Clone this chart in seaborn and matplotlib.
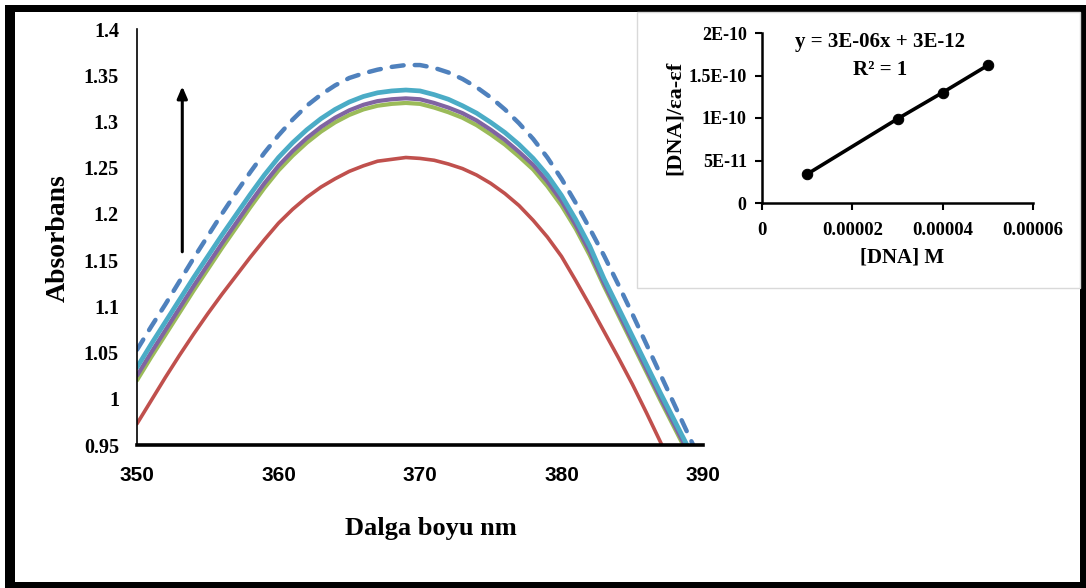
import numpy as np
import pandas as pd
import matplotlib
matplotlib.use("Agg")
import matplotlib.pyplot as plt
from matplotlib.patches import Rectangle
import seaborn as sns

# ---- UV-Vis absorption spectra (absorbance vs wavelength) ----
wavelength = list(range(350, 391))

abs_blue = [1.053, 1.078, 1.102, 1.127, 1.152, 1.176, 1.200, 1.223, 1.245, 1.266,
            1.285, 1.302, 1.317, 1.329, 1.339, 1.347, 1.352, 1.356, 1.359, 1.361,
            1.361, 1.358, 1.353, 1.346, 1.337, 1.326, 1.313, 1.298, 1.281, 1.261,
            1.238, 1.212, 1.184, 1.155, 1.124, 1.092, 1.059, 1.026, 0.993, 0.960,
            0.927]
abs_red = [0.973, 0.998, 1.023, 1.047, 1.070, 1.092, 1.113, 1.133, 1.153, 1.172,
           1.190, 1.205, 1.218, 1.229, 1.238, 1.246, 1.252, 1.257, 1.259, 1.261,
           1.260, 1.258, 1.254, 1.249, 1.242, 1.233, 1.222, 1.209, 1.193, 1.175,
           1.154, 1.128, 1.101, 1.073, 1.045, 1.016, 0.985, 0.953, 0.920, 0.885,
           0.850]
abs_green = [1.020, 1.045, 1.069, 1.093, 1.117, 1.140, 1.163, 1.185, 1.207, 1.228,
             1.247, 1.263, 1.277, 1.289, 1.299, 1.307, 1.313, 1.317, 1.319, 1.320,
             1.319, 1.315, 1.310, 1.304, 1.296, 1.286, 1.275, 1.262, 1.248, 1.230,
             1.209, 1.184, 1.155, 1.122, 1.091, 1.060, 1.029, 0.998, 0.968, 0.938,
             0.908]
abs_purple = [1.025, 1.050, 1.074, 1.098, 1.122, 1.145, 1.168, 1.190, 1.212, 1.233,
              1.252, 1.268, 1.282, 1.294, 1.304, 1.312, 1.318, 1.322, 1.324, 1.325,
              1.324, 1.320, 1.315, 1.309, 1.301, 1.291, 1.280, 1.267, 1.253, 1.235,
              1.214, 1.188, 1.159, 1.125, 1.094, 1.063, 1.032, 1.001, 0.971, 0.941,
              0.911]
abs_cyan = [1.034, 1.059, 1.083, 1.107, 1.131, 1.154, 1.177, 1.199, 1.221, 1.242,
            1.261, 1.277, 1.291, 1.303, 1.313, 1.321, 1.327, 1.331, 1.333, 1.334,
            1.333, 1.329, 1.324, 1.317, 1.309, 1.299, 1.288, 1.275, 1.260, 1.242,
            1.220, 1.194, 1.165, 1.130, 1.099, 1.068, 1.037, 1.006, 0.976, 0.946,
            0.916]

x_ticks = [350, 360, 370, 380, 390]
y_ticks = [0.95, 1.0, 1.05, 1.1, 1.15, 1.2, 1.25, 1.3, 1.35, 1.4]
y_tick_labels = ["0.95", "1", "1.05", "1.1", "1.15", "1.2", "1.25", "1.3", "1.35", "1.4"]

# ---- binding plot: [DNA] vs [DNA]/(εa-εf) ----
dna_conc = [0.00001, 0.00003, 0.00004, 0.00005]
dna_ratio = [3.4e-11, 9.9e-11, 1.30e-10, 1.62e-10]
inset_x_ticks = [0, 0.00002, 0.00004, 0.00006]
inset_x_labels = ["0", "0.00002", "0.00004", "0.00006"]
inset_y_ticks = [0, 5e-11, 1e-10, 1.5e-10, 2e-10]
inset_y_labels = ["0", "5E-11", "1E-10", "1.5E-10", "2E-10"]

sns.set_style("white")
plt.rcParams["font.family"] = ["Liberation Serif", "DejaVu Serif"]
plt.rcParams["text.color"] = "black"
plt.rcParams["xtick.color"] = "black"
plt.rcParams["ytick.color"] = "black"

W, H = 1086, 588
fig = plt.figure(figsize=(W / 100, H / 100), dpi=100)
fig.patch.set_facecolor("white")

# heavy black frame around the whole figure
fig.patches.append(Rectangle((5 / W, 0), 1 - 5 / W, 1 - 5 / H, transform=fig.transFigure,
                             facecolor="black", edgecolor="none", zorder=-3))
fig.patches.append(Rectangle((15 / W, 6 / H), (1080 - 15) / W, (582 - 12) / H,
                             transform=fig.transFigure, facecolor="white",
                             edgecolor="none", zorder=-2))
# light-grey box holding the binding plot
fig.patches.append(Rectangle((637 / W, 1 - 288 / H), (1080 - 637) / W, (288 - 12) / H,
                             transform=fig.transFigure, facecolor="white",
                             edgecolor="#D9D9D9", lw=1.0, zorder=-1))

# ---------------- main spectra axes ----------------
ax = fig.add_axes([137 / W, (H - 445) / H, (703 - 137) / W, (445 - 29) / H])
ax.set_facecolor("none")
ax.set_zorder(1)

spectra = pd.DataFrame({
    "wavelength": wavelength * 5,
    "absorbance": abs_blue + abs_red + abs_green + abs_purple + abs_cyan,
    "series": (["s1"] * len(wavelength) + ["s2"] * len(wavelength) + ["s3"] * len(wavelength)
               + ["s4"] * len(wavelength) + ["s5"] * len(wavelength)),
})
palette = {"s1": "#4F81BD", "s2": "#C0504D", "s3": "#9BBB59", "s4": "#8064A2", "s5": "#4BACC6"}
widths = {"s1": 3.2, "s2": 2.6, "s3": 3.0, "s4": 3.0, "s5": 3.4}

for key in ["s2", "s3", "s4", "s5", "s1"]:
    sub = spectra[spectra["series"] == key]
    sns.lineplot(data=sub, x="wavelength", y="absorbance", color=palette[key],
                 lw=widths[key], ax=ax, legend=False, sort=False)
for ln in ax.get_lines():
    ln.set_solid_capstyle("round")
    ln.set_solid_joinstyle("round")
blue_line = ax.get_lines()[-1]
blue_line.set_dashes((2.7, 2.5))
blue_line.set_dash_capstyle("round")

ax.set_xlim(350, 390)
ax.set_ylim(0.95, 1.4)
ax.set_xticks(x_ticks)
ax.set_xticklabels([str(v) for v in x_ticks], family="Liberation Sans", fontsize=15,
                   fontweight="bold")
ax.set_yticks(y_ticks)
ax.set_yticklabels(y_tick_labels, fontsize=14.5, fontweight="bold")
ax.tick_params(axis="x", length=0, pad=15)
ax.tick_params(axis="y", length=0, pad=13)
for side in ["top", "right"]:
    ax.spines[side].set_visible(False)
ax.spines["left"].set_linewidth(1.2)
ax.spines["left"].set_color("black")
ax.spines["bottom"].set_linewidth(2.6)
ax.spines["bottom"].set_color("black")
ax.set_xlabel("")
ax.set_ylabel("")

# arrow showing the increase in absorbance
ax.annotate("", xy=(353.2, 1.338), xytext=(353.2, 1.159),
            arrowprops=dict(arrowstyle="-|>,head_length=0.7,head_width=0.3",
                            color="black", lw=2.2, shrinkA=0, shrinkB=0))

fig.text(431 / W, 1 - 528 / H, "Dalga boyu nm", ha="center", va="center",
         fontsize=19, fontweight="bold")
fig.text(58 / W, 1 - 238 / H, "Absorbans", ha="center", va="center", rotation=90,
         fontsize=20, fontweight="bold")

# ---------------- inset binding plot ----------------
ins = fig.add_axes([762 / W, (H - 203) / H, (1033 - 762) / W, (203 - 33) / H])
ins.set_facecolor("none")
ins.set_zorder(2)
binding = pd.DataFrame({"conc": dna_conc, "ratio": dna_ratio})
sns.lineplot(data=binding, x="conc", y="ratio", ax=ins, color="black", lw=2.6,
             marker="o", markersize=7.5, markeredgecolor="black", legend=False)
ins.set_xlim(0, 0.00006)
ins.set_ylim(0, 2e-10)
ins.set_xticks(inset_x_ticks)
ins.set_xticklabels(inset_x_labels, fontsize=13.5, fontweight="bold")
ins.set_yticks(inset_y_ticks)
ins.set_yticklabels(inset_y_labels, fontsize=13, fontweight="bold")
ins.tick_params(axis="both", direction="out", length=5, width=1.5, color="black", pad=6)
ins.tick_params(axis="x", bottom=True, pad=9)
ins.tick_params(axis="y", left=True)
for side in ["top", "right"]:
    ins.spines[side].set_visible(False)
for side in ["left", "bottom"]:
    ins.spines[side].set_linewidth(1.8)
    ins.spines[side].set_color("black")
ins.set_xlabel("")
ins.set_ylabel("")

fig.text(902 / W, 1 - 258 / H, "[DNA] M", ha="center", va="center",
         fontsize=15, fontweight="bold")
fig.text(675 / W, 1 - 118 / H, "[DNA]/εa-εf", ha="center", va="center", rotation=90,
         fontsize=16, fontweight="bold")
fig.text(880 / W, 1 - 42 / H, "y = 3E-06x + 3E-12", ha="center", va="center",
         fontsize=15, fontweight="bold")
fig.text(880 / W, 1 - 70 / H, "R² = 1", ha="center", va="center",
         fontsize=15, fontweight="bold")

fig.savefig("out.png", dpi=100, facecolor="white")
